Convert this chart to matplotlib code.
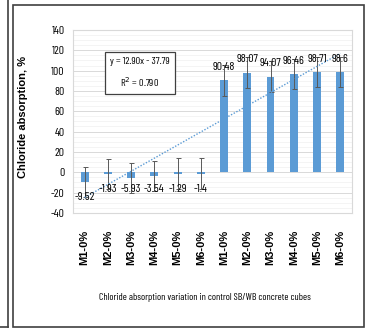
import matplotlib
matplotlib.use("Agg")
import matplotlib.pyplot as plt
from matplotlib.patches import Rectangle
from matplotlib.lines import Line2D
import numpy as np

# data
categories = ["M1-0%", "M2-0%", "M3-0%", "M4-0%", "M5-0%", "M6-0%",
              "M1-0%", "M2-0%", "M3-0%", "M4-0%", "M5-0%", "M6-0%"]
values = [-9.52, -1.93, -5.93, -3.54, -1.29, -1.4,
          90.48, 98.07, 94.07, 96.46, 98.71, 98.6]
labels = ["-9.52", "-1.93", "-5.93", "-3.54", "-1.29", "-1.4",
          "90:48", "98:07", "94:07", "96:46", "98:71", "98.6"]
errors = [15] * 12
slope, intercept = 12.90, -37.79

narrow = ["Barlow Condensed", "Archivo Narrow", "DejaVu Sans"]
bold = ["Liberation Sans", "DejaVu Sans"]

fig = plt.figure(figsize=(3.65, 3.29), dpi=100)
ax = fig.add_axes([0.2, 0.353, 0.764, 0.556])

x = np.arange(1, len(values) + 1)
ax.bar(x, values, width=0.34, color="#5B9BD5", zorder=3)
ax.errorbar(x, values, yerr=errors, fmt="none", ecolor="#595959",
            elinewidth=0.7, capsize=1.8, capthick=0.7, zorder=4)

# linear trendline
xt = np.array([x[0], x[-1]])
ax.plot(xt, slope * xt + intercept, linestyle=(0, (1, 1.2)),
        color="#5B9BD5", linewidth=1.0, zorder=5)

# data labels
for xi, v, lab in zip(x, values, labels):
    if v < 0:
        ly = v - 15 if v < -8 else -17
    else:
        ly = v + 13
    ax.text(xi, ly, lab, ha="center", va="center", fontsize=8.5,
            family=narrow, zorder=6)

ax.set_xlim(0.5, 12.5)
ax.set_ylim(-40, 140)
ax.set_yticks(np.arange(-40, 141, 20))
ax.set_yticklabels([str(t) for t in range(-40, 141, 20)])
ax.set_yticks(np.arange(-40, 141, 5), minor=True)
ax.grid(axis="y", which="major", color="#D9D9D9", linewidth=0.7, zorder=0)
ax.grid(axis="y", which="minor", color="#F0F0F0", linewidth=0.5, zorder=0)
ax.set_axisbelow(True)
ax.tick_params(axis="both", which="both", length=0)
ax.tick_params(axis="y", pad=6)
for lab in ax.get_yticklabels():
    lab.set_family(narrow)
    lab.set_fontsize(8.5)

ax.set_xticks(x)
ax.set_xticklabels(categories, rotation=90, fontsize=8, fontweight="bold",
                   family=bold)
ax.tick_params(axis="x", pad=12)

for s in ax.spines.values():
    s.set_color("#D9D9D9")
    s.set_linewidth(0.8)

ax.set_ylabel("Chloride absorption, %", fontsize=8, fontweight="bold",
              family=bold)
ax.yaxis.set_label_coords(-0.16, 0.525)
fig.text(0.562, 0.097, "Chloride absorption variation in control SB/WB concrete cubes",
         ha="center", va="center", fontsize=7.2, family=narrow)

# equation box
ax.text(0.24, 0.765, "y = 12.90x - 37.79\nR$^2$ = 0.790", transform=ax.transAxes,
        ha="center", va="center", fontsize=7.5, family=narrow, linespacing=1.8,
        bbox=dict(boxstyle="square,pad=0.5", facecolor="white",
                  edgecolor="#404040", linewidth=0.9), zorder=7)

# panel frames
W, H = 365.0, 329.0
fig.add_artist(Rectangle((13 / W, 1 - 327 / H), (364 - 13) / W, (327 - 5) / H,
                         transform=fig.transFigure, fill=False,
                         edgecolor="#404040", linewidth=1.2))
fig.add_artist(Line2D([8 / W, 8 / W], [1 - 327 / H, 1],
                      transform=fig.transFigure, color="#404040", linewidth=1.2))
fig.add_artist(Line2D([0, 8 / W], [1 - 327 / H, 1 - 327 / H],
                      transform=fig.transFigure, color="#404040", linewidth=1.2))

fig.savefig("out.png", dpi=100)
